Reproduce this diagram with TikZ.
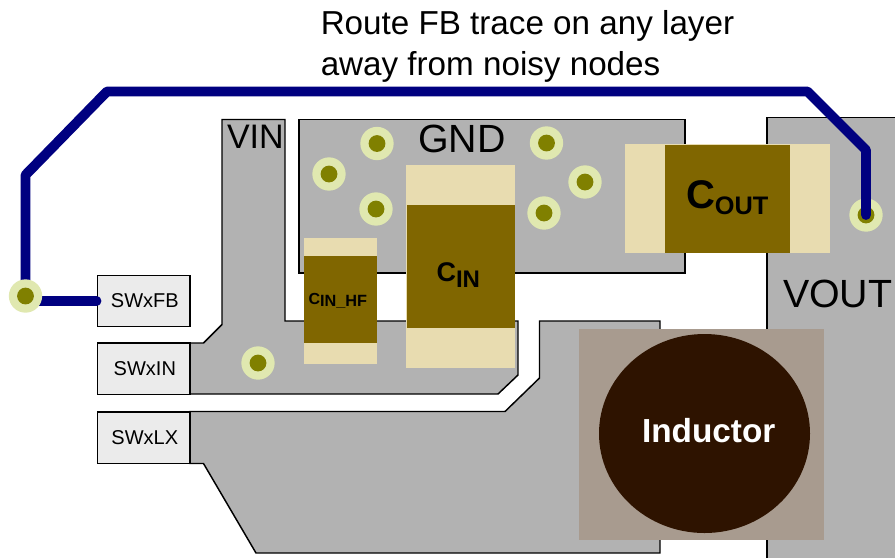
\documentclass[tikz,border=0pt]{standalone}
\usepackage{fontspec}
\setmainfont{Liberation Sans}
\definecolor{copper}{HTML}{B2B2B2}
\definecolor{padc}{HTML}{E8DCB0}
\definecolor{bodyc}{HTML}{806600}
\definecolor{viaout}{HTML}{E0E8B0}
\definecolor{viain}{HTML}{808000}
\definecolor{tracec}{HTML}{000080}
\definecolor{boxc}{HTML}{EBEBEB}
\definecolor{lpad}{HTML}{A89B8F}
\definecolor{lbody}{HTML}{2E1300}
\newcommand{\fs}[1]{\fontsize{#1}{#1}\selectfont}
\tikzset{
  plane/.style={fill=copper,draw=black,line width=1.1pt,line join=miter},
  pad/.style={fill=padc,draw=none},
  body/.style={fill=bodyc,draw=none},
  viaouter/.style={circle,fill=viaout,draw=none,minimum size=25pt,inner sep=0pt},
  viainner/.style={circle,fill=viain,draw=none,minimum size=12.6pt,inner sep=0pt},
  trace/.style={draw=tracec,line width=7.4pt,line join=round,line cap=round},
  pin/.style={draw=black,fill=boxc,line width=1.1pt,minimum width=69.4pt,minimum height=38.6pt,inner sep=0pt,font=\fs{15}},
  lbl/.style={anchor=base west,inner sep=0pt,outer sep=0pt},
}
\newcommand{\via}[2]{\node[viaouter] (#1) at (#2) {}; \node[viainner] (#1i) at (#2) {};}
\begin{document}
\begin{tikzpicture}[x=0.75pt,y=-0.75pt]
\useasboundingbox (0,0) rectangle (895,558);
% copper planes
\path[plane] (190,411.5) -- (505,411.5) -- (539.5,378) -- (539.5,321) -- (660,321) -- (660,553) -- (256,553) -- (203.5,463.5) -- (190,463.5) -- cycle;
\fill[copper] (767,117.5) rectangle (895,558);
\draw[black,line width=1.1pt] (767,558) -- (767,117.5) -- (895,117.5);
\path[plane] (222,119.5) -- (285,119.5) -- (285,321) -- (518,321) -- (518,375) -- (498,394) -- (190,394) -- (190,343) -- (203.5,343) -- (222,324.5) -- cycle;
\path[plane] (299,119.5) rectangle (685,273);
% vias
\via{va}{258,363}
\via{vb}{377,143.5}
\via{vc}{329,174}
\via{vd}{376,209}
\via{ve}{546.5,143}
\via{vf}{585,182}
\via{vg}{544,213}
% capacitors
\fill[pad] (406,165) rectangle (515,368);
\fill[body] (407,205) rectangle (515,328);
\fill[bodyc] (304,238) rectangle (377,364);
\fill[pad] (304.3,238) rectangle (376.5,364);
\fill[body] (304,256) rectangle (377,343);
\fill[pad] (625,144) rectangle (830,253);
\fill[body] (665,145) rectangle (790,253);
% inductor
\fill[lpad] (579,329) rectangle (824,540);
\fill[lbody] (704.5,433.5) ellipse [x radius=105.5,y radius=99.5];
% pins
\node[pin] (swfb) at (143.5,301) {\hspace{2pt}SWxFB};
\node[pin] (swin) at (143.5,368.5) {\hspace{2pt}SWxIN};
\node[pin] (swlx) at (143.5,437.5) {\hspace{2pt}SWxLX};
% feedback trace
\via{vout}{866,215}
\coordinate (vfbc) at (25.5,296);
\coordinate (ca) at (25.5,175);
\coordinate (cb) at (107,91.5);
\coordinate (cc) at (807.5,91.5);
\coordinate (cd) at (866,150);
\draw[trace] (vfbc) -- (ca) -- (cb) -- (cc) -- (cd) -- (vout.center);
\draw[trace] (vfbc |- swfb.west) -- (swfb.west);
\via{vfb}{25.5,296}
% labels
\node[lbl,font=\fs{25.5}] (vinl) at (227,148) {VIN};
\node[lbl,font=\fs{29.5}] (gndl) at (418,152) {GND};
\node[lbl,font=\fs{29.5}] (voutl) at (783,307) {VOUT};
\node[lbl,font=\fs{25}\bfseries,text=white] (indl) at (642,442) {Inductor};
\node[lbl,font=\fs{30}\bfseries] (coutl) at (686,208) {C\raisebox{-5.2pt}{\fs{19}OUT}};
\node[lbl,font=\fs{20.25}\bfseries] (cinl) at (436.5,281) {C\raisebox{-4.5pt}{\fs{18}IN}};
\node[lbl,font=\fs{12}\bfseries] (chfl) at (308.5,304) {C\raisebox{-2.2pt}{\fs{12.2}IN\_HF}};
\node[anchor=base west,inner sep=0pt,align=left,font=\fontsize{24.9}{30.75}\selectfont] (head) at (320.5,75) {Route FB trace on any layer\\away from noisy nodes};
\end{tikzpicture}
\end{document}
